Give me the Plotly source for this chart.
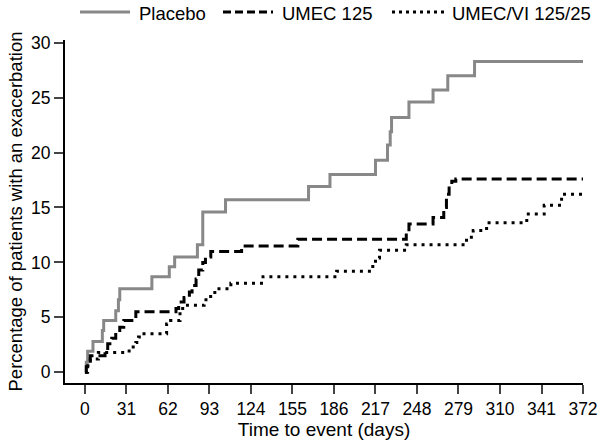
import plotly.graph_objects as go

# Kaplan-Meier style cumulative incidence (step) data
placebo_days = [0, 1, 2, 6, 13, 14, 23, 25, 26, 50, 63, 67, 84, 88, 105, 167, 183,
                217, 226, 228, 229, 242, 260, 271, 291, 372]
placebo_pct = [0, 0.9, 1.9, 2.8, 3.8, 4.7, 5.6, 6.6, 7.6, 8.7, 9.6, 10.5, 11.6, 14.6,
               15.7, 16.9, 18.0, 19.3, 20.7, 21.9, 23.2, 24.6, 25.7, 27.0, 28.3, 28.3]

umec_days = [0, 1, 2, 4, 15, 17, 20, 23, 26, 29, 38, 68, 70, 74, 78, 80, 83, 85,
             88, 90, 94, 117, 159, 240, 242, 260, 268, 270, 272, 274, 277, 372]
umec_pct = [0, 0.5, 1.0, 1.5, 2.0, 2.6, 3.1, 3.6, 4.1, 4.7, 5.5, 5.8, 6.4, 6.8, 7.3,
            7.9, 8.5, 9.3, 10.0, 10.5, 11.0, 11.5, 12.1, 12.8, 13.5, 14.1, 15.0, 16.2,
            17.0, 17.4, 17.6, 17.6]

umecvi_days = [0, 2, 4, 10, 33, 38, 40, 42, 61, 64, 71, 73, 89, 92, 97, 109, 133,
               188, 215, 217, 220, 240, 285, 290, 300, 330, 343, 356, 372]
umecvi_pct = [0, 0.6, 1.2, 1.8, 2.3, 2.7, 3.2, 3.5, 4.4, 4.7, 5.5, 6.1, 6.6, 6.9, 7.6,
              8.1, 8.7, 9.2, 9.8, 10.4, 11.1, 11.6, 12.3, 12.9, 13.6, 14.4, 15.2, 16.2, 16.2]

x_ticks = [0, 31, 62, 93, 124, 155, 186, 217, 248, 279, 310, 341, 372]
y_ticks = [0, 5, 10, 15, 20, 25, 30]

FONT = "Liberation Sans, Arial, sans-serif"
W, H = 600, 445
L, R, T, B = 65, 17, 40, 62

series = [
    ("Placebo", placebo_days, placebo_pct, dict(color="#888888", width=3, dash="solid")),
    ("UMEC 125", umec_days, umec_pct, dict(color="black", width=3, dash="10px,5px")),
    ("UMEC/VI 125/25", umecvi_days, umecvi_pct, dict(color="black", width=3, dash="3px,5px")),
]

fig = go.Figure()
for name, xs, ys, style in series:
    fig.add_trace(go.Scatter(x=xs, y=ys, mode="lines", name=name,
                             line=dict(shape="hv", **style)))


def px_x(px):
    return (px - L) / (W - L - R)


def px_y(py):
    return (H - B - py) / (H - T - B)


# hand-drawn legend across the top (line sample + label), pixel positions
legend_items = [(80, 130, 137), (223, 273, 280), (392, 445, 450)]
legend_dash = ["solid", "8px,4px", "3px,4px"]
for (name, _, _, style), (x0, x1, xt), dash in zip(series, legend_items, legend_dash):
    fig.add_shape(type="line", xref="paper", yref="paper", x0=px_x(x0), x1=px_x(x1),
                  y0=px_y(12), y1=px_y(12),
                  line=dict(color=style["color"], width=3, dash=dash))
    fig.add_annotation(text=name, xref="paper", yref="paper", x=px_x(xt), y=px_y(13),
                       xanchor="left", yanchor="middle", showarrow=False,
                       font=dict(size=18.5))

fig.update_layout(
    width=W, height=H,
    margin=dict(l=L, r=R, t=T, b=B),
    paper_bgcolor="white", plot_bgcolor="white",
    font=dict(family=FONT, size=17.5, color="black"),
    showlegend=False,
)
fig.update_xaxes(
    range=[-14.9, 372], tickvals=x_ticks, ticks="outside", ticklen=9, tickwidth=2,
    showline=True, linecolor="black", linewidth=2, showgrid=False, zeroline=False,
    automargin=False,
    title=dict(text="Time to event (days)", font=dict(size=19), standoff=2),
)
fig.update_yaxes(
    range=[-0.98, 30.25], tickvals=y_ticks, ticks="outside", ticklen=9, tickwidth=2,
    showline=True, linecolor="black", linewidth=2, showgrid=False, zeroline=False,
    automargin=False,
    title=dict(text="Percentage of patients with an exacerbation", font=dict(size=18.5),
               standoff=4),
)

# page body has a default 8px margin; drop it so the figure fills the window
fig.write_html("out.html", config={"displayModeBar": False},
               post_script="document.body.style.margin='0px';")
